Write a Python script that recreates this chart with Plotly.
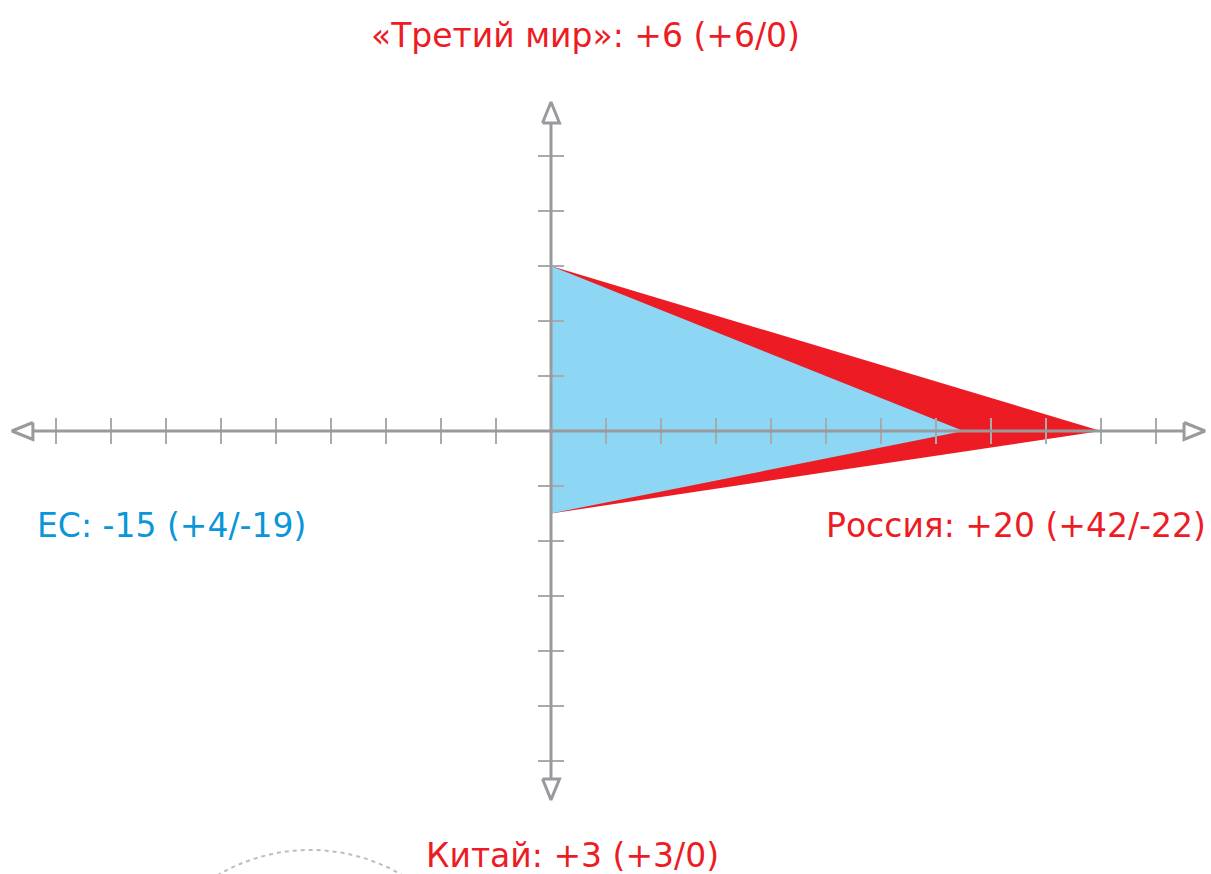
import plotly.graph_objects as go

# ---- data ----
axis_names = ["«Третий мир»", "Россия", "Китай", "ЕС"]
axis_dirs = [(0, 1), (1, 0), (0, -1), (-1, 0)]  # top, right, bottom, left
red_values = [6, 20, 3, 0]
blue_values = [6, 15, 3, 0]
label_texts = [
    "«Третий мир»: +6 (+6/0)",
    "Россия: +20 (+42/-22)",
    "Китай: +3 (+3/0)",
    "ЕС: -15 (+4/-19)",
]
label_colors = ["#ED1C24", "#ED1C24", "#ED1C24", "#0A96D8"]
x_ticks = [-18, -16, -14, -12, -10, -8, -6, -4, -2, 2, 4, 6, 8, 10, 12, 14, 16, 18, 20, 22]
y_ticks = [10, 8, 6, 4, 2, -2, -4, -6, -8, -10, -12]

# ---- layout geometry (pixels -> units) ----
W, H = 1211, 874
PX = 27.5          # pixels per unit
OX, OY = 551, 431  # origin in pixels
xr = [-OX / PX, (W - OX) / PX]
yr = [-(H - OY) / PX, OY / PX]

RED = "#ED1C24"
BLUE_FILL = "#8DD7F5"
AXIS = "#999A9E"
TICK = "#A9AAAD"


def poly(values):
    xs, ys = [], []
    for v, (dx, dy) in zip(values, axis_dirs):
        if v == 0 and dx < 0:
            continue
        xs.append(v * dx)
        ys.append(v * dy)
    xs.append(xs[0]); ys.append(ys[0])
    return xs, ys


fig = go.Figure()
rx, ry = poly(red_values)
fig.add_trace(go.Scatter(x=rx, y=ry, fill="toself", fillcolor=RED, mode="lines",
                         line=dict(width=0, color=RED), hoverinfo="skip"))
bx, by = poly(blue_values)
fig.add_trace(go.Scatter(x=bx, y=by, fill="toself", fillcolor=BLUE_FILL, mode="lines",
                         line=dict(width=0, color=BLUE_FILL), hoverinfo="skip"))

# ticks
tl = 13 / PX
tx, ty = [], []
for t in x_ticks:
    tx += [t, t, None]; ty += [-tl, tl, None]
for t in y_ticks:
    tx += [-tl, tl, None]; ty += [t, t, None]
fig.add_trace(go.Scatter(x=tx, y=ty, mode="lines", line=dict(color=TICK, width=2),
                         hoverinfo="skip"))

# axis lines
x_left, x_right = -18.84, 23.02
y_top, y_bot = 11.2, -12.65
fig.add_trace(go.Scatter(x=[x_left, x_right, None, 0, 0], y=[0, 0, None, y_top, y_bot],
                         mode="lines", line=dict(color=AXIS, width=3), hoverinfo="skip"))

# arrowheads (open triangles)
al = 21 / PX
aw = 8.5 / PX
arrows = [
    ([x_left, x_left - al, x_left, x_left], [aw, 0, -aw, aw]),
    ([x_right, x_right + al, x_right, x_right], [aw, 0, -aw, aw]),
    ([-aw, 0, aw, -aw], [y_top, y_top + al, y_top, y_top]),
    ([-aw, 0, aw, -aw], [y_bot, y_bot - al, y_bot, y_bot]),
]
for ax_, ay_ in arrows:
    fig.add_trace(go.Scatter(x=ax_, y=ay_, mode="lines", fill="toself", fillcolor="white",
                             line=dict(color=AXIS, width=3), hoverinfo="skip"))

# decorative dashed arc at bottom
cx, cy, r = (310 - OX) / PX, -(1032 - OY) / PX, 182 / PX
fig.add_shape(type="circle", x0=cx - r, x1=cx + r, y0=cy - r, y1=cy + r,
              line=dict(color="#BDBDBD", width=2, dash="4px,4px"), layer="below")

# labels
FONT = "DejaVu Sans"
FS = 33
positions = [
    dict(x=585 / W, y=1 - 35 / H, xanchor="center"),
    dict(x=1208 / W, y=1 - 525 / H, xanchor="right"),
    dict(x=572 / W, y=1 - 855 / H, xanchor="center"),
    dict(x=35 / W, y=1 - 525 / H, xanchor="left"),
]
for txt, col, pos in zip(label_texts, label_colors, positions):
    fig.add_annotation(text=txt, xref="paper", yref="paper", showarrow=False,
                       yanchor="middle", font=dict(family=FONT, size=FS, color=col), **pos)

fig.update_layout(
    width=W, height=H, margin=dict(l=0, r=0, t=0, b=0),
    paper_bgcolor="white", plot_bgcolor="white", showlegend=False, hovermode=False,
    xaxis=dict(range=xr, visible=False, fixedrange=True),
    yaxis=dict(range=yr, visible=False, fixedrange=True),
)
fig.write_html("out.html", config={"displayModeBar": False},
               post_script="document.body.style.margin='0';document.body.style.overflow='hidden';")
